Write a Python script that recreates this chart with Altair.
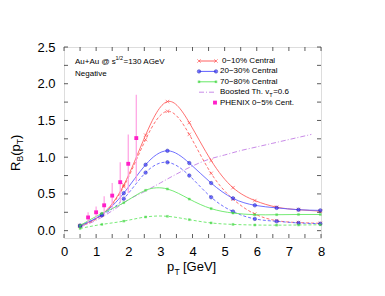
import altair as alt
import pandas as pd

FONT = "Liberation Sans"
W, H = 257, 191

# ---------------- data ----------------
pt_model = [0.5, 1.18, 1.86, 2.54, 3.22, 3.90, 4.58, 5.26, 5.94, 6.62, 7.30, 7.98]
c0_10_solid = [0.07, 0.22, 0.62, 1.30, 1.757, 1.47, 0.955, 0.585, 0.41, 0.32, 0.285, 0.265]
c0_10_dash = [0.06, 0.21, 0.60, 1.24, 1.625, 1.31, 0.78, 0.43, 0.227, 0.136, 0.11, 0.10]
c20_30_solid = [0.07, 0.22, 0.51, 0.897, 1.087, 0.92, 0.648, 0.44, 0.345, 0.31, 0.285, 0.276]
c20_30_dash = [0.06, 0.21, 0.435, 0.79, 0.93, 0.75, 0.455, 0.26, 0.16, 0.127, 0.105, 0.095]
c70_80_solid = [0.07, 0.235, 0.38, 0.55, 0.567, 0.43, 0.30, 0.24, 0.217, 0.217, 0.22, 0.22]
c70_80_dash = [0.03, 0.085, 0.13, 0.186, 0.195, 0.15, 0.105, 0.085, 0.077, 0.075, 0.077, 0.08]

boosted_pt = [0.5, 1.0, 1.5, 2.0, 2.5, 3.0, 3.5, 4.0, 4.5, 5.0, 5.5, 6.0, 6.5, 7.0, 7.7]
boosted_rb = [0.05, 0.14, 0.27, 0.42, 0.53, 0.65, 0.77, 0.88, 0.97, 1.03, 1.09, 1.14, 1.19, 1.24, 1.31]

phenix_pt = [0.75, 1.0, 1.25, 1.5, 1.75, 2.0, 2.25]
phenix_rb = [0.18, 0.25, 0.345, 0.477, 0.66, 0.91, 1.26]
phenix_hi = [0.25, 0.33, 0.47, 0.65, 0.93, 1.31, 1.85]
phenix_lo = [0.11, 0.17, 0.22, 0.30, 0.39, 0.51, 0.67]

x_ticks = [i * 0.5 for i in range(17)]
y_ticks = [i * 0.25 for i in range(11)]
x_labels = list(range(9))
y_labels = [0.0, 0.5, 1.0, 1.5, 2.0, 2.5]

legend_labels = ["0\u221210% Central", "20\u221230% Central", "70\u221280% Central",
                 "Boosted Th. v", "PHENIX 0\u22125% Cent."]

# ---------------- scales / axes ----------------
xs = alt.Scale(domain=[0, 8], nice=False, zero=False)
ys = alt.Scale(domain=[-0.1, 2.5], nice=False, zero=False)
XA = alt.Axis(values=x_labels, format="d", ticks=False, domain=False, grid=False, title=None,
              labelFont=FONT, labelFontSize=13, labelColor="black", labelPadding=7, labelFlush=False)
YA = alt.Axis(values=y_labels, format=".1f", ticks=False, domain=False, grid=False, title=None,
              labelFont=FONT, labelFontSize=13, labelColor="black", labelPadding=9, labelFlush=False)


def X(f):
    return alt.X(f, scale=xs, axis=XA)


def Y(f):
    return alt.Y(f, scale=ys, axis=YA)


RED, RED_M = "#ff6060", "#ff3a3a"
BLUE, BLUE_M = "#6060ff", "#2a2ae6"
GREEN, GREEN_M = "#66e866", "#3ad63a"
PURPLE = "#c98be8"
MAGENTA, PINK = "#ff1fc8", "#ffa0e2"
XPATH = "M-1,-1L1,1M-1,1L1,-1"

layers = []


def marker(kind, color):
    if kind == "x":
        return dict(shape=XPATH, filled=False, stroke=color, strokeWidth=0.8, size=12)
    if kind == "b":
        return dict(shape="circle", filled=True, fill="#3a3aff", stroke="#0000a0", strokeWidth=0.6, size=12)
    return dict(shape="square", filled=True, fill=color, stroke=color, strokeWidth=0.2, size=5)


# boosted thermal
bdf = pd.DataFrame({"x": boosted_pt, "y": boosted_rb})
layers.append(alt.Chart(bdf).mark_line(color=PURPLE, strokeWidth=1, strokeDash=[5, 2, 1, 2],
                                       interpolate="monotone").encode(x=X("x:Q"), y=Y("y:Q")))

series = [
    (c0_10_solid, RED, RED_M, None, "x"),
    (c0_10_dash, RED, RED_M, [3, 2], "x"),
    (c20_30_solid, BLUE, BLUE_M, None, "b"),
    (c20_30_dash, BLUE, BLUE_M, [3, 2], "b"),
    (c70_80_solid, GREEN, GREEN_M, None, "g"),
    (c70_80_dash, GREEN, GREEN_M, [3, 2], "g"),
]
for vals, lc, mc, dash, kind in series:
    df = pd.DataFrame({"x": pt_model, "y": vals})
    lkw = dict(color=lc, strokeWidth=0.9, interpolate="natural")
    if dash:
        lkw["strokeDash"] = dash
    layers.append(alt.Chart(df).mark_line(**lkw).encode(x=X("x:Q"), y=Y("y:Q")))
    layers.append(alt.Chart(df).mark_point(**marker(kind, mc)).encode(x=X("x:Q"), y=Y("y:Q")))

# PHENIX
pdf = pd.DataFrame({"x": phenix_pt, "y": phenix_rb, "lo": phenix_lo, "hi": phenix_hi})
layers.append(alt.Chart(pdf).mark_rule(color=PINK, strokeWidth=1.2).encode(
    x=X("x:Q"), y=Y("lo:Q"), y2="hi:Q"))
layers.append(alt.Chart(pdf).mark_point(shape="square", filled=True, color=MAGENTA, size=15, opacity=1).encode(
    x=X("x:Q"), y=Y("y:Q")))

# inward ticks on all four sides
xt = pd.DataFrame({"t": x_ticks})
yt = pd.DataFrame({"t": y_ticks})
TICK = 4
for y0, y1 in [(H, H - TICK), (0, TICK)]:
    layers.append(alt.Chart(xt).mark_rule(color="#333", strokeWidth=0.8).encode(
        x=X("t:Q"), y=alt.value(y0), y2=alt.value(y1)))
for x0, x1 in [(0, TICK), (W, W - TICK)]:
    layers.append(alt.Chart(yt).mark_rule(color="#333", strokeWidth=0.8).encode(
        y=Y("t:Q"), x=alt.value(x0), x2=alt.value(x1)))

one = pd.DataFrame({"a": [0]})


def txt(s, x, y, size, angle=0, align="left", baseline="alphabetic"):
    return alt.Chart(one).mark_text(text=s, font=FONT, fontSize=size, angle=angle, align=align,
                                    baseline=baseline, color="black").encode(x=alt.value(x), y=alt.value(y))


# annotation
layers.append(txt("Au+Au @ s", 11, 16.5, 8))
layers.append(txt("1/2", 51.5, 12.5, 5.5))
layers.append(txt("=130 AGeV", 59.5, 16.5, 8))
layers.append(txt("Negative", 11, 28.5, 8))

# legend
rows = [14, 24.4, 34.8, 45.2, 55.6]
LX0, LX1, TX = 135, 152, 156
leg = [(RED, RED_M, "x"), (BLUE, BLUE_M, "b"), (GREEN, GREEN_M, "g")]
for i, (lc, mc, kind) in enumerate(leg):
    y = rows[i]
    layers.append(alt.Chart(one).mark_rule(color=lc, strokeWidth=1).encode(
        x=alt.value(LX0), x2=alt.value(LX1), y=alt.value(y)))
    for xx in (LX0, LX1):
        layers.append(alt.Chart(one).mark_point(**marker(kind, mc)).encode(x=alt.value(xx), y=alt.value(y)))
    layers.append(txt(legend_labels[i], TX + (2 if i == 0 else 0), y, 8, baseline="middle"))
layers.append(alt.Chart(one).mark_rule(color=PURPLE, strokeWidth=1, strokeDash=[5, 2, 1, 2]).encode(
    x=alt.value(LX0), x2=alt.value(LX1), y=alt.value(rows[3])))
layers.append(txt(legend_labels[3], TX, rows[3], 8, baseline="middle"))
layers.append(txt("T", TX + 49.3, rows[3] + 3.2, 5.5, baseline="middle"))
layers.append(txt("=0.6", TX + 53.2, rows[3], 8, baseline="middle"))
layers.append(alt.Chart(one).mark_point(shape="square", filled=True, color=MAGENTA, size=15, opacity=1).encode(
    x=alt.value(151), y=alt.value(rows[4])))
layers.append(txt(legend_labels[4], TX, rows[4], 8, baseline="middle"))

# axis titles with subscripts
layers.append(txt("p", 103, 224, 13))
layers.append(txt("T", 110.5, 227.5, 8.5))
layers.append(txt("[GeV]", 119, 224, 13))

YB = -44.5
layers.append(txt("R", YB, 124, 13, angle=270))
layers.append(txt("B", YB + 3, 114.6, 8.5, angle=270))
layers.append(txt("(p", YB, 108.8, 13, angle=270))
layers.append(txt("T", YB + 3, 97.3, 8.5, angle=270))
layers.append(txt(")", YB, 92, 13, angle=270))

chart = alt.layer(*layers).properties(
    width=W, height=H,
    padding={"left": 56, "top": 39, "right": 8, "bottom": 42},
    autosize=alt.AutoSizeParams(type="none"),
).configure_view(stroke="#222", strokeWidth=1).configure(background="white")

chart.save("out.html", embed_options={"renderer": "svg", "actions": False})
